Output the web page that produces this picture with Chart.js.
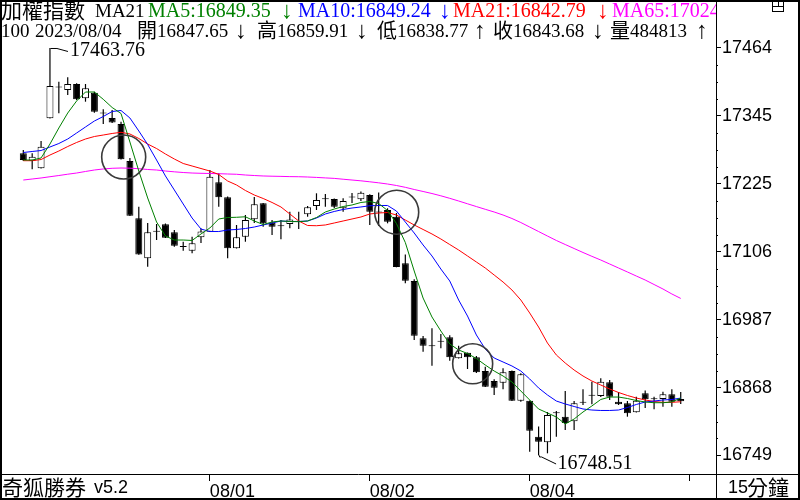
<!DOCTYPE html>
<html><head><meta charset="utf-8">
<script src="https://cdn.jsdelivr.net/npm/chart.js@4/dist/chart.umd.min.js"></script>
<style>html,body{margin:0;padding:0;background:#fff}#wrap{width:800px;height:500px}</style>
</head><body><div id="wrap"><canvas id="c" width="800" height="500"></canvas></div>
<script>
// ---- data (15-minute candles, 加權指數) ----
const open=[17278.9,17265.9,17252.6,17340.4,17394.4,17390.0,17400.6,17375.5,17385.3,17349.7,
17340.9,17330.3,17265.4,17164.8,17094.6,17141.7,17154.3,17140.2,17115.3,17108.0,
17131.5,17141.3,17228.0,17201.7,17112.2,17132.5,17163.1,17191.2,17157.1,17151.3,
17154.8,17159.2,17171.8,17186.4,17198.7,17198.7,17182.4,17201.7,17198.2,17205.7,
17175.4,17179.4,17167.6,17085.8,17054.8,16954.2,16940.7,16948.6,16955.9,16919.1,
16928.9,16920.8,16896.8,16879.2,16876.3,16896.8,16844.7,16844.7,16781.5,16771.6,
16823.1,16816.6,16808.5,16841.5,16853.8,16852.9,16877.0,16842.9,16840.1,16824.3,
16857.6,16847.6,16847.6,16855.9,16847.65];
const high=[17284.7,17278.9,17300.5,17463.76,17404.6,17412.3,17401.8,17400.6,17387.0,17356.2,
17354.9,17334.4,17270.7,17185.2,17156.6,17154.8,17155.7,17144.3,17123.7,17132.5,
17146.9,17249.6,17243.8,17203.1,17153.1,17170.6,17202.2,17191.7,17161.8,17161.8,
17176.4,17176.4,17186.4,17208.7,17207.5,17199.6,17199.9,17209.2,17211.9,17207.0,
17210.1,17182.4,17174.1,17101.3,17057.8,16958.2,16971.7,16961.7,16959.5,16941.2,
16929.3,16923.1,16904.3,16882.2,16901.5,16897.7,16892.8,16845.0,16799.4,16824.8,
16826.6,16861.7,16844.1,16864.7,16878.0,16884.0,16881.0,16859.9,16844.1,16851.7,
16862.6,16851.7,16860.5,16864.7,16859.91];
const low=[17265.4,17250.8,17252.2,17340.0,17349.1,17381.3,17372.5,17369.5,17350.2,17330.3,
17332.1,17268.0,17168.9,17100.9,17079.9,17126.7,17130.2,17115.0,17108.0,17103.4,
17121.5,17140.8,17185.2,17094.6,17111.8,17123.7,17156.6,17150.1,17135.5,17128.0,
17147.3,17146.0,17167.6,17179.4,17185.2,17182.9,17176.4,17191.7,17195.2,17153.1,
17151.3,17156.0,17078.8,17050.7,16951.2,16930.7,16906.1,16936.6,16914.9,16918.7,
16900.3,16893.3,16868.7,16854.7,16864.7,16844.1,16842.9,16755.1,16748.51,16752.3,
16781.5,16793.2,16793.2,16837.1,16838.3,16851.2,16845.9,16837.1,16816.6,16823.9,
16831.8,16829.6,16834.1,16834.1,16838.77];
const close=[17267.2,17272.9,17290.5,17397.0,17395.3,17400.6,17373.7,17393.0,17351.9,17348.8,
17333.0,17268.4,17169.4,17101.3,17140.2,17141.1,17130.8,17116.7,17114.4,17120.9,
17141.7,17237.8,17201.7,17112.2,17131.5,17161.8,17189.4,17156.0,17150.1,17150.8,
17162.7,17158.7,17184.1,17197.0,17198.2,17185.2,17195.2,17201.2,17209.8,17176.4,
17174.8,17158.9,17079.3,17055.3,16958.8,16941.2,16940.1,16948.0,16920.8,16927.9,
16920.8,16894.5,16869.2,16867.5,16894.5,16844.7,16891.0,16792.0,16772.7,16819.6,
16822.5,16805.5,16840.1,16841.0,16853.3,16878.0,16851.7,16838.3,16822.5,16844.7,
16847.1,16847.1,16855.9,16842.9,16843.68];
const ma5=[17267.1,17267.1,17270.7,17295.2,17323.3,17349.6,17370.7,17386.5,17386.5,17373.7,
17359.3,17348.8,17298.7,17247.8,17200.5,17158.3,17133.8,17126.7,17126.7,17125.9,
17137.3,17147.8,17163.6,17166.2,17166.6,17167.5,17160.1,17153.9,17158.3,17160.1,
17159.2,17158.9,17160.1,17166.2,17175.9,17181.1,17185.5,17188.2,17192.6,17194.3,
17190.8,17178.5,17155.7,17122.3,17072.3,17024.9,16991.6,16967.0,16944.2,16933.7,
16927.5,16918.7,16907.3,16896.8,16888.0,16877.5,16861.7,16845.9,16830.1,16823.1,
16816.0,16803.8,16812.5,16824.8,16835.4,16846.8,16851.1,16851.1,16848.5,16845.0,
16842.4,16841.1,16841.1,16842.4,16849.35];
const ma10=[17280.3,17282.1,17283.8,17290.0,17296.1,17304.0,17314.5,17325.1,17335.6,17343.5,
17352.3,17354.0,17340.9,17318.1,17294.4,17267.1,17239.1,17214.5,17189.9,17165.3,
17146.0,17141.6,17141.6,17144.3,17145.2,17146.9,17149.5,17153.1,17156.6,17160.1,
17159.2,17159.2,17160.1,17165.3,17172.4,17176.8,17180.3,17182.9,17184.7,17186.9,
17187.3,17187.3,17177.6,17158.3,17139.0,17118.0,17098.7,17075.8,17054.8,17021.4,
16993.3,16960.0,16935.4,16919.6,16912.6,16905.6,16896.8,16882.8,16867.0,16854.7,
16844.1,16838.9,16834.5,16830.1,16828.3,16827.5,16827.5,16828.3,16832.7,16838.0,
16842.4,16844.1,16845.9,16846.8,16849.24];
const ma21=[17265.9,17265.9,17268.0,17275.9,17282.9,17290.8,17297.9,17304.0,17308.4,17311.0,
17313.7,17315.8,17312.8,17304.9,17295.2,17287.3,17277.7,17268.9,17261.0,17256.6,
17252.2,17247.8,17241.7,17230.3,17223.3,17213.6,17205.7,17199.6,17192.6,17184.7,
17172.4,17160.1,17152.2,17151.8,17153.1,17156.6,17160.1,17163.6,17167.1,17172.4,
17174.1,17175.0,17170.6,17161.8,17153.1,17145.2,17137.3,17128.5,17118.8,17109.2,
17098.7,17088.1,17077.6,17065.3,17053.0,17039.0,17021.4,16998.6,16974.0,16945.9,
16924.9,16910.8,16898.5,16888.0,16879.2,16872.2,16865.2,16859.1,16853.8,16849.4,
16845.9,16843.3,16841.8,16841.8,16842.79];
const ma65=[17232.0,17233.8,17235.6,17237.8,17239.9,17242.2,17244.3,17247.0,17249.6,17251.4,
17252.6,17253.1,17252.8,17251.9,17250.5,17249.6,17247.8,17246.4,17245.2,17244.3,
17243.8,17243.5,17243.1,17242.6,17242.1,17240.8,17239.9,17239.1,17238.7,17238.4,
17238.0,17237.8,17237.3,17236.6,17235.7,17234.9,17233.4,17232.0,17230.6,17228.9,
17227.1,17225.0,17222.4,17219.2,17215.4,17211.9,17208.3,17204.3,17199.9,17195.2,
17190.3,17185.4,17180.6,17175.9,17170.6,17164.5,17157.4,17149.5,17141.6,17133.7,
17125.9,17118.8,17111.8,17104.8,17098.1,17091.6,17084.6,17077.6,17070.6,17063.5,
17056.5,17048.6,17040.7,17032.0,17024.2];
const xTickIdx=[21,39,57,75];
const xTickLabels=['08/01','08/02','08/04',''];
const yTickValues=[17463.76,17344.55,17225.34,17106.13,16986.93,16867.72,16748.51];
const yTickLabels=['17464','17345','17225','17106','16987','16868','16749'];
const signalIdx=[11.3,42.03,50.58];
const signalVal=[17272.4,17175.5,16909.4];
const highIdx=3, lowIdx=58;
const lastVolume=484813;
const lastTime='100', lastDate='2023/08/04';

// ---- chart ----
const N=close.length;
const idx=[...Array(N).keys()];
const SERIF='"Liberation Serif","DejaVu Serif",serif';
const CJK='"Noto Sans CJK TC","Noto Sans CJK SC",sans-serif';
const SANS='"Liberation Sans",Arial,sans-serif';
const ARROW='24px "Liberation Serif","DejaVu Serif",serif';

const decor={
  id:'decor',
  beforeDraw(c){const g=c.ctx;g.save();g.fillStyle='#fff';g.fillRect(0,0,800,500);g.restore();},
  afterDraw(c){
    const g=c.ctx, xs=c.scales.x, ys=c.scales.y, ca=c.chartArea;
    g.save();
    // minor ticks on y axis
    g.fillStyle='#000';
    for(let k=0;k<yTickValues.length-1;k++){
      for(let q=1;q<4;q++){
        const v=yTickValues[k]+(yTickValues[k+1]-yTickValues[k])*q/4;
        g.fillRect(ca.right+1,Math.round(ys.getPixelForValue(v)),1,1);
      }
    }
    // high / low annotations
    g.strokeStyle='#000';g.lineWidth=1;g.fillStyle='#000';
    g.font='20px '+SERIF;g.textBaseline='middle';g.textAlign='left';
    let px=xs.getPixelForValue(highIdx), py=ys.getPixelForValue(high[highIdx]);
    g.beginPath();g.moveTo(Math.round(px)+0.5,py+0.5);g.lineTo(px+7,py+0.5);g.lineTo(px+18,py+3.5);g.stroke();
    g.fillText(high[highIdx].toFixed(2),px+20,py+3);
    px=xs.getPixelForValue(lowIdx); py=ys.getPixelForValue(low[lowIdx]);
    g.beginPath();g.moveTo(Math.round(px)+0.5,py);g.lineTo(Math.round(px)+0.5,py+1.5);g.lineTo(px+3,py+1.5);g.lineTo(px+17.5,py+8.5);g.stroke();
    g.fillText(low[lowIdx].toFixed(2),px+19,py+8);
    // header texts (clipped to plot)
    g.save();g.beginPath();g.rect(0,0,ca.right,ca.bottom);g.clip();
    g.textBaseline='alphabetic';
    const L=N-1;
    const h1=[['加權指數',1,'#000','c'],['MA21',95,'#000','m'],
      ['MA5:'+ma5[L].toFixed(2),148,'#008000','s'],['↓',281,'#008000','a'],
      ['MA10:'+ma10[L].toFixed(2),298,'#0000ff','s'],['↓',439,'#0000ff','a'],
      ['MA21:'+ma21[L].toFixed(2),453,'#ff0000','s'],['↓',597,'#ff0000','a'],
      ['MA65:'+ma65[L].toFixed(2),612,'#ff00ff','s']];
    const f1={c:'21px '+CJK,m:'19px '+SERIF,s:'20px '+SERIF,a:ARROW};
    for(const [t,x,col,f] of h1){g.fillStyle=col;g.font=f1[f];g.fillText(t,x,f==='c'?18:(f==='a'?18:17));}
    const h2=[[lastTime,1,'s'],[lastDate,35,'s'],['開',137,'c'],[open[L].toFixed(2),157,'s'],['↓',235,'a'],
      ['高',257,'c'],[high[L].toFixed(2),277,'s'],['↓',356,'a'],
      ['低',377,'c'],[low[L].toFixed(2),397,'s'],['↑',474,'a'],
      ['收',493,'c'],[close[L].toFixed(2),513,'s'],['↓',592,'a'],
      ['量',610,'c'],[String(lastVolume),630,'s'],['↑',696,'a']];
    const f2={c:'20px '+CJK,s:'19px '+SERIF,a:ARROW};
    g.fillStyle='#000';
    for(const [t,x,f] of h2){g.font=f2[f];g.fillText(t,x,f==='c'?38:(f==='a'?38:37));}
    g.restore();
    // frame lines
    g.strokeStyle='#000';g.lineWidth=1;
    g.beginPath();g.moveTo(ca.right+0.5,ca.bottom);g.lineTo(ca.right+0.5,500);
    g.moveTo(ca.right,ca.bottom+0.5);g.lineTo(800,ca.bottom+0.5);g.stroke();
    g.lineWidth=2;g.strokeRect(1,1,798,498);
    // top-right icon
    g.lineWidth=1;g.strokeRect(772.5,0.5,11,11);
    g.beginPath();g.moveTo(772,6.5);g.lineTo(784,6.5);g.moveTo(778.5,0);g.lineTo(778.5,6.5);g.stroke();
    // bottom texts
    g.fillStyle='#000';g.textBaseline='middle';
    g.font='21px '+CJK;g.fillText('奇狐勝券',2,487);
    g.font='18px '+SANS;g.fillText('v5.2',94,488);
    g.fillText('15',728,488);
    g.font='21px '+CJK;g.fillText('分鐘',747,487);
    g.restore();
  }
};

new Chart(document.getElementById('c'),{
  type:'line',
  data:{datasets:[
    {label:'signal',data:signalIdx.map((x,k)=>({x,y:signalVal[k]})),showLine:false,
      pointRadius:[22,22,20],pointHoverRadius:0,pointBorderColor:'#3a3a3a',pointBorderWidth:1.6,
      pointBackgroundColor:'rgba(0,0,0,0)',order:0},
    {label:'MA5',data:idx.map(i=>({x:i,y:ma5[i]})),borderColor:'#008000',borderWidth:1,pointRadius:0,tension:0,order:1},
    {label:'MA10',data:idx.map(i=>({x:i,y:ma10[i]})),borderColor:'#0000ff',borderWidth:1,pointRadius:0,tension:0,order:2},
    {label:'MA21',data:idx.map(i=>({x:i,y:ma21[i]})),borderColor:'#ff0000',borderWidth:1,pointRadius:0,tension:0,order:3},
    {label:'MA65',data:idx.map(i=>({x:i,y:ma65[i]})),borderColor:'#ff00ff',borderWidth:1,pointRadius:0,tension:0,order:4},
    {type:'bar',label:'body',data:idx.map(i=>({x:i,y:[open[i],close[i]]})),
      backgroundColor:idx.map(i=>close[i]>open[i]?'#ffffff':'#000000'),borderColor:'#000',borderWidth:1,
      borderSkipped:false,barThickness:7,minBarLength:1,grouped:false,inflateAmount:0,order:5},
    {type:'bar',label:'wick',data:idx.map(i=>({x:i,y:[low[i],high[i]]})),
      backgroundColor:'#000',borderWidth:0,barThickness:1.2,grouped:false,inflateAmount:0,order:6}
  ]},
  options:{
    responsive:false,animation:false,events:[],
    layout:{padding:0,autoPadding:false},
    plugins:{legend:{display:false},tooltip:{enabled:false}},
    scales:{
      x:{type:'linear',min:-2.623,max:77.97,offset:false,
        afterBuildTicks:s=>{s.ticks=xTickIdx.map(v=>({value:v}));},
        afterFit:s=>{s.height=26;s.paddingLeft=0;s.paddingRight=0;},
        ticks:{autoSkip:false,maxRotation:0,align:'start',padding:0,color:'#000',
          font:{family:SANS,size:18},callback:(v,i)=>xTickLabels[i]},
        grid:{drawOnChartArea:false,offset:false,tickLength:7,color:'#000',lineWidth:1},
        border:{display:true,color:'#000',width:1}},
      y:{type:'linear',position:'right',min:16716.0,max:17548.0,
        afterBuildTicks:s=>{s.ticks=yTickValues.map(v=>({value:v}));},
        afterFit:s=>{s.width=84;s.paddingTop=0;s.paddingBottom=0;},
        ticks:{autoSkip:false,padding:1,color:'#000',font:{family:SANS,size:18},
          callback:(v,i)=>yTickLabels[i]},
        grid:{drawOnChartArea:false,tickLength:5,color:'#000',lineWidth:1},
        border:{display:true,color:'#000',width:1}}
    }
  },
  plugins:[decor]
});
</script></body></html>
